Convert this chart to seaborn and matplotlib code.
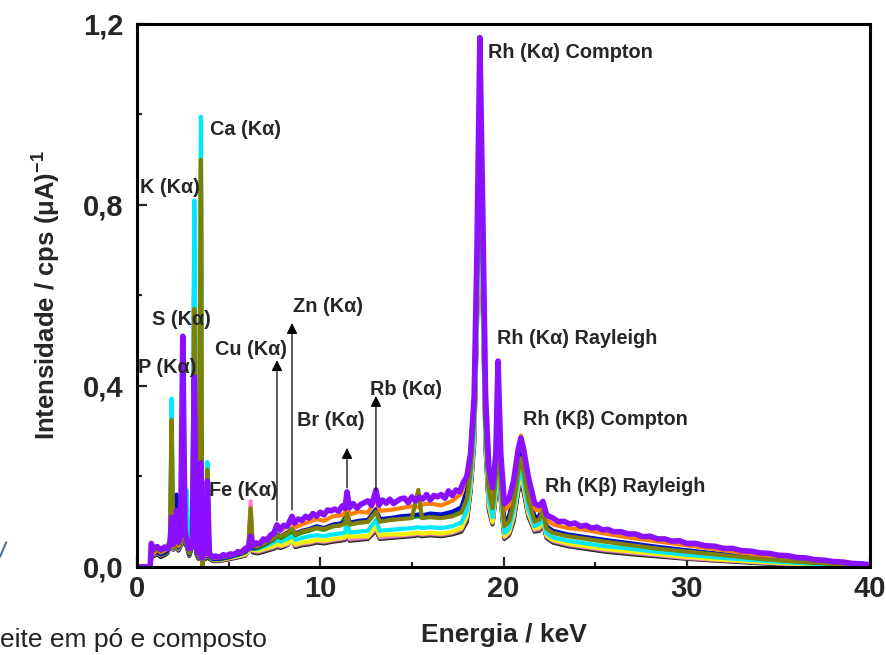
import numpy as np
import pandas as pd
import matplotlib
matplotlib.use("Agg")
import matplotlib.pyplot as plt
from matplotlib.ticker import MultipleLocator, FuncFormatter
from matplotlib.lines import Line2D
import seaborn as sns

# energy grid (keV), shared by the lower spectra
energy_kev = [
    0.0, 0.72, 0.78, 0.90, 1.10, 1.30, 1.50, 1.65, 1.80, 1.89,
    1.98, 2.08, 2.16, 2.26, 2.38, 2.50, 2.62, 2.71, 2.85, 3.02,
    3.13, 3.24, 3.36, 3.49, 3.56, 3.66, 3.76, 3.84, 3.95, 4.15,
    4.50, 5.00, 5.50, 5.90, 6.08, 6.20, 6.32, 6.60, 7.10, 7.45,
    7.64, 7.85, 8.20, 8.46, 8.65, 9.00, 9.40, 9.80, 10.2, 10.7,
    11.1, 11.35, 11.46, 11.6, 12.1, 12.6, 13.04, 13.25, 13.8, 14.4,
    15.0, 15.35, 15.55, 16.0, 16.6, 17.2, 17.7, 18.0, 18.2, 18.4,
    18.55, 18.71, 18.87, 19.02, 19.2, 19.4, 19.58, 19.70, 19.85, 20.05,
    20.3, 20.55, 20.8, 20.95, 21.1, 21.35, 21.7, 21.95, 22.15, 22.35,
    22.7, 23.5, 24.5, 25.5, 27.0, 28.5, 30.0, 32.0, 34.0, 36.0,
    38.0, 40.0,
]

spec_black = [
    0, 0, 0.020, 0.024, 0.028, 0.022, 0.026, 0.030, 0.045, 0.250,
    0.038, 0.042, 0.085, 0.036, 0.046, 0.330, 0.050, 0.046, 0.024, 0.046,
    0.650, 0.028, 0.018, 0.850, 0.024, 0.040, 0.018, 0.190, 0.018, 0.013,
    0.013, 0.017, 0.021, 0.025, 0.036, 0.110, 0.032, 0.030, 0.036, 0.040,
    0.044, 0.042, 0.048, 0.060, 0.044, 0.048, 0.050, 0.054, 0.052, 0.056,
    0.058, 0.060, 0.078, 0.058, 0.060, 0.062, 0.080, 0.062, 0.064, 0.066,
    0.068, 0.070, 0.068, 0.070, 0.068, 0.072, 0.078, 0.100, 0.165, 0.270,
    0.530, 0.880, 0.570, 0.260, 0.125, 0.094, 0.155, 0.340, 0.145, 0.062,
    0.070, 0.100, 0.165, 0.190, 0.165, 0.112, 0.078, 0.080, 0.095, 0.064,
    0.054, 0.046, 0.040, 0.034, 0.028, 0.023, 0.018, 0.013, 0.008, 0.005,
    0.003, 0.001,
]
spec_gray = [
    0, 0, 0.022, 0.026, 0.030, 0.025, 0.028, 0.032, 0.048, 0.290,
    0.040, 0.044, 0.088, 0.038, 0.048, 0.350, 0.052, 0.048, 0.025, 0.048,
    0.710, 0.030, 0.020, 0.880, 0.026, 0.042, 0.020, 0.195, 0.020, 0.014,
    0.014, 0.018, 0.022, 0.026, 0.038, 0.120, 0.034, 0.032, 0.038, 0.042,
    0.046, 0.044, 0.050, 0.062, 0.046, 0.050, 0.052, 0.056, 0.054, 0.058,
    0.060, 0.062, 0.080, 0.060, 0.062, 0.064, 0.082, 0.064, 0.066, 0.068,
    0.070, 0.072, 0.070, 0.072, 0.070, 0.074, 0.080, 0.105, 0.170, 0.280,
    0.540, 0.900, 0.580, 0.265, 0.130, 0.096, 0.160, 0.350, 0.150, 0.064,
    0.072, 0.105, 0.170, 0.195, 0.170, 0.115, 0.080, 0.082, 0.098, 0.066,
    0.056, 0.048, 0.042, 0.036, 0.030, 0.025, 0.019, 0.014, 0.009, 0.006,
    0.003, 0.001,
]
spec_pink = [
    0, 0, 0.024, 0.028, 0.032, 0.026, 0.030, 0.034, 0.050, 0.300,
    0.040, 0.045, 0.090, 0.040, 0.050, 0.360, 0.055, 0.050, 0.026, 0.050,
    0.780, 0.032, 0.022, 0.870, 0.028, 0.045, 0.022, 0.200, 0.022, 0.015,
    0.015, 0.019, 0.023, 0.027, 0.040, 0.145, 0.036, 0.034, 0.040, 0.044,
    0.048, 0.046, 0.050, 0.056, 0.048, 0.052, 0.054, 0.058, 0.056, 0.060,
    0.062, 0.064, 0.084, 0.062, 0.064, 0.066, 0.086, 0.066, 0.068, 0.070,
    0.072, 0.074, 0.072, 0.074, 0.072, 0.076, 0.084, 0.110, 0.175, 0.285,
    0.550, 0.920, 0.590, 0.270, 0.135, 0.098, 0.165, 0.360, 0.155, 0.066,
    0.075, 0.110, 0.175, 0.200, 0.175, 0.118, 0.082, 0.085, 0.100, 0.068,
    0.058, 0.050, 0.044, 0.038, 0.032, 0.026, 0.020, 0.015, 0.010, 0.006,
    0.004, 0.002,
]
spec_yellow = [
    0, 0, 0.025, 0.030, 0.034, 0.028, 0.032, 0.036, 0.052, 0.335,
    0.045, 0.048, 0.095, 0.042, 0.052, 0.380, 0.060, 0.060, 0.028, 0.055,
    0.595, 0.035, 0.025, 0.915, 0.030, 0.050, 0.025, 0.210, 0.024, 0.016,
    0.016, 0.020, 0.024, 0.028, 0.036, 0.100, 0.038, 0.036, 0.042, 0.046,
    0.050, 0.048, 0.052, 0.058, 0.050, 0.054, 0.056, 0.060, 0.058, 0.062,
    0.064, 0.066, 0.088, 0.066, 0.068, 0.068, 0.090, 0.070, 0.072, 0.072,
    0.074, 0.076, 0.074, 0.076, 0.074, 0.078, 0.086, 0.115, 0.180, 0.290,
    0.560, 0.940, 0.600, 0.280, 0.140, 0.100, 0.170, 0.370, 0.160, 0.068,
    0.078, 0.115, 0.180, 0.205, 0.180, 0.122, 0.085, 0.088, 0.105, 0.070,
    0.060, 0.052, 0.046, 0.040, 0.034, 0.028, 0.022, 0.016, 0.011, 0.007,
    0.004, 0.002,
]
spec_cyan = [
    0, 0, 0.028, 0.032, 0.036, 0.030, 0.034, 0.038, 0.055, 0.372,
    0.045, 0.050, 0.100, 0.045, 0.055, 0.400, 0.070, 0.170, 0.030, 0.060,
    0.810, 0.035, 0.025, 0.995, 0.030, 0.050, 0.025, 0.232, 0.025, 0.018,
    0.018, 0.022, 0.026, 0.032, 0.040, 0.090, 0.040, 0.040, 0.048, 0.054,
    0.060, 0.056, 0.062, 0.070, 0.060, 0.064, 0.068, 0.070, 0.068, 0.072,
    0.074, 0.076, 0.098, 0.076, 0.078, 0.080, 0.104, 0.080, 0.082, 0.084,
    0.086, 0.088, 0.086, 0.088, 0.086, 0.090, 0.098, 0.125, 0.190, 0.300,
    0.580, 0.960, 0.620, 0.290, 0.150, 0.110, 0.180, 0.380, 0.170, 0.075,
    0.085, 0.125, 0.190, 0.215, 0.190, 0.130, 0.090, 0.095, 0.112, 0.075,
    0.065, 0.058, 0.052, 0.046, 0.040, 0.033, 0.027, 0.020, 0.014, 0.009,
    0.005, 0.002,
]
spec_green = [
    0, 0, 0.024, 0.030, 0.032, 0.028, 0.030, 0.034, 0.050, 0.180,
    0.042, 0.048, 0.120, 0.042, 0.052, 0.320, 0.056, 0.050, 0.027, 0.048,
    0.400, 0.032, 0.023, 0.420, 0.025, 0.044, 0.023, 0.160, 0.022, 0.017,
    0.017, 0.021, 0.027, 0.032, 0.040, 0.080, 0.040, 0.042, 0.052, 0.060,
    0.068, 0.064, 0.072, 0.080, 0.070, 0.076, 0.080, 0.086, 0.082, 0.090,
    0.092, 0.110, 0.116, 0.094, 0.098, 0.100, 0.122, 0.102, 0.104, 0.108,
    0.110, 0.112, 0.110, 0.114, 0.112, 0.118, 0.128, 0.160, 0.220, 0.340,
    0.620, 1.050, 0.680, 0.320, 0.175, 0.135, 0.210, 0.420, 0.205, 0.096,
    0.108, 0.150, 0.220, 0.250, 0.220, 0.160, 0.106, 0.108, 0.135, 0.088,
    0.078, 0.070, 0.064, 0.058, 0.050, 0.042, 0.035, 0.027, 0.019, 0.012,
    0.007, 0.003,
]
spec_blue = [
    0, 0, 0.026, 0.030, 0.034, 0.028, 0.032, 0.036, 0.052, 0.150,
    0.045, 0.050, 0.160, 0.044, 0.054, 0.300, 0.058, 0.052, 0.028, 0.050,
    0.380, 0.034, 0.024, 0.300, 0.026, 0.046, 0.024, 0.150, 0.024, 0.018,
    0.018, 0.022, 0.028, 0.034, 0.040, 0.070, 0.042, 0.044, 0.054, 0.062,
    0.072, 0.068, 0.076, 0.084, 0.074, 0.080, 0.084, 0.090, 0.086, 0.094,
    0.096, 0.100, 0.120, 0.098, 0.102, 0.104, 0.128, 0.106, 0.108, 0.112,
    0.114, 0.116, 0.114, 0.118, 0.116, 0.122, 0.132, 0.170, 0.230, 0.350,
    0.640, 1.080, 0.700, 0.330, 0.180, 0.140, 0.215, 0.430, 0.210, 0.100,
    0.112, 0.155, 0.225, 0.255, 0.225, 0.165, 0.110, 0.112, 0.140, 0.090,
    0.080, 0.072, 0.066, 0.060, 0.052, 0.044, 0.037, 0.028, 0.020, 0.013,
    0.008, 0.004,
]
spec_orange = [
    0, 0, 0.035, 0.030, 0.038, 0.032, 0.036, 0.040, 0.055, 0.200,
    0.045, 0.052, 0.105, 0.046, 0.056, 0.440, 0.065, 0.055, 0.032, 0.055,
    0.480, 0.036, 0.026, 0.285, 0.024, 0.048, 0.026, 0.160, 0.026, 0.020,
    0.022, 0.026, 0.032, 0.040, 0.044, 0.075, 0.046, 0.050, 0.064, 0.074,
    0.088, 0.080, 0.090, 0.098, 0.088, 0.094, 0.100, 0.106, 0.102, 0.112,
    0.114, 0.118, 0.140, 0.116, 0.122, 0.120, 0.150, 0.124, 0.126, 0.130,
    0.134, 0.132, 0.138, 0.140, 0.136, 0.146, 0.162, 0.205, 0.250, 0.370,
    0.690, 1.120, 0.750, 0.360, 0.200, 0.160, 0.240, 0.445, 0.240, 0.125,
    0.135, 0.180, 0.255, 0.290, 0.255, 0.190, 0.128, 0.124, 0.135, 0.104,
    0.094, 0.086, 0.082, 0.074, 0.064, 0.056, 0.048, 0.037, 0.026, 0.017,
    0.010, 0.005,
]
spec_olive = [
    0, 0, 0.030, 0.035, 0.040, 0.035, 0.040, 0.045, 0.060, 0.325,
    0.050, 0.055, 0.110, 0.050, 0.060, 0.420, 0.060, 0.050, 0.030, 0.060,
    0.570, 0.040, 0.030, 0.900, -0.030, 0.060, 0.030, 0.215, 0.030, 0.020,
    0.020, 0.024, 0.030, 0.036, 0.050, 0.130, 0.045, 0.045, 0.055, 0.062,
    0.070, 0.068, 0.074, 0.085, 0.072, 0.078, 0.082, 0.086, 0.084, 0.090,
    0.092, 0.096, 0.118, 0.094, 0.098, 0.100, 0.122, 0.100, 0.104, 0.106,
    0.108, 0.170, 0.108, 0.110, 0.108, 0.112, 0.120, 0.150, 0.210, 0.330,
    0.620, 1.030, 0.660, 0.320, 0.170, 0.130, 0.200, 0.400, 0.190, 0.090,
    0.100, 0.140, 0.210, 0.240, 0.210, 0.150, 0.100, 0.105, 0.125, 0.085,
    0.075, 0.068, 0.062, 0.056, 0.048, 0.040, 0.034, 0.026, 0.018, 0.012,
    0.007, 0.003,
]

# the top (purple) spectrum is read more densely, it carries the visible noise
purple_energy = [
    0.0, 0.72, 0.78, 0.90, 1.10, 1.30, 1.50, 1.65, 1.80, 1.89,
    1.98, 2.08, 2.16, 2.26, 2.38, 2.50, 2.62, 2.71, 2.85, 3.02,
    3.13, 3.24, 3.36, 3.49, 3.56, 3.66, 3.76, 3.84, 3.95, 4.15,
    4.3, 4.5, 4.7, 4.9, 5.1, 5.3, 5.5, 5.7, 5.9, 6.08,
    6.2, 6.32, 6.5, 6.7, 6.9, 7.1, 7.3, 7.45, 7.64, 7.8,
    8.0, 8.2, 8.46, 8.6, 8.8, 9.0, 9.2, 9.4, 9.6, 9.8,
    10.0, 10.2, 10.4, 10.6, 10.8, 11.0, 11.2, 11.35, 11.46, 11.6,
    11.8, 12.0, 12.2, 12.4, 12.6, 12.8, 13.04, 13.2, 13.4, 13.6,
    13.8, 14.0, 14.2, 14.4, 14.6, 14.8, 15.0, 15.2, 15.4, 15.6,
    15.8, 16.0, 16.2, 16.4, 16.6, 16.8, 17.0, 17.2, 17.4, 17.6,
    17.8, 18.0, 18.2, 18.4, 18.55, 18.71, 18.87, 19.02, 19.2, 19.4,
    19.58, 19.70, 19.85, 20.05, 20.3, 20.55, 20.8, 20.95, 21.1, 21.35,
    21.7, 21.95, 22.15, 22.35, 22.7, 23.0, 23.3, 23.6, 23.9, 24.2,
    24.5, 24.8, 25.1, 25.4, 25.7, 26.0, 26.4, 26.8, 27.2, 27.6,
    28.0, 28.4, 28.8, 29.2, 29.6, 30.0, 30.5, 31.0, 31.5, 32.0,
    32.5, 33.0, 33.5, 34.0, 34.5, 35.0, 35.5, 36.0, 36.5, 37.0,
    37.5, 38.0, 38.5, 39.0, 39.5, 40.0,
]
spec_purple = [
    0, 0, 0.052, 0.040, 0.045, 0.038, 0.044, 0.040, 0.050, 0.110,
    0.050, 0.060, 0.125, 0.055, 0.070, 0.510, 0.080, 0.060, 0.040, 0.050,
    0.420, 0.040, 0.030, 0.230, 0.020, 0.050, 0.030, 0.190, 0.030, 0.022,
    0.024, 0.021, 0.027, 0.025, 0.029, 0.027, 0.034, 0.031, 0.041, 0.040,
    0.068, 0.047, 0.053, 0.051, 0.062, 0.059, 0.071, 0.073, 0.093, 0.082,
    0.092, 0.090, 0.112, 0.097, 0.106, 0.103, 0.112, 0.108, 0.118, 0.112,
    0.121, 0.115, 0.126, 0.124, 0.128, 0.123, 0.135, 0.129, 0.166, 0.131,
    0.140, 0.130, 0.138, 0.142, 0.146, 0.136, 0.170, 0.137, 0.148, 0.141,
    0.150, 0.140, 0.146, 0.151, 0.152, 0.142, 0.155, 0.146, 0.154, 0.150,
    0.160, 0.148, 0.158, 0.155, 0.160, 0.152, 0.168, 0.158, 0.170, 0.166,
    0.186, 0.200, 0.250, 0.380, 0.700, 1.170, 0.780, 0.380, 0.220, 0.175,
    0.250, 0.455, 0.250, 0.140, 0.150, 0.190, 0.260, 0.285, 0.260, 0.200,
    0.140, 0.135, 0.145, 0.115, 0.108, 0.100, 0.101, 0.095, 0.097, 0.090,
    0.092, 0.086, 0.088, 0.082, 0.083, 0.078, 0.078, 0.073, 0.073, 0.067,
    0.068, 0.062, 0.062, 0.057, 0.058, 0.052, 0.052, 0.047, 0.046, 0.041,
    0.041, 0.036, 0.035, 0.031, 0.030, 0.026, 0.025, 0.021, 0.020, 0.016,
    0.015, 0.012, 0.011, 0.008, 0.007, 0.005,
]

# drawing order: first drawn ends up underneath
sample_names = ["black", "gray", "pink", "yellow", "cyan", "green",
                "blue", "orange", "olive"]
sample_values = [spec_black, spec_gray, spec_pink, spec_yellow, spec_cyan,
                 spec_green, spec_blue, spec_orange, spec_olive]
sample_colors = ["#1a1a1a", "#555555", "#ff77d0", "#f2f200", "#00e8ff",
                 "#009a00", "#0010c8", "#ff8000", "#808000"]
purple_color = "#8a10ff"

# peak labels: text, x (keV), y
peak_labels = [
    ("Ca (K\u03b1)", 3.98, 0.966),
    ("K (K\u03b1)", 0.16, 0.838),
    ("S (K\u03b1)", 0.82, 0.548),
    ("P (K\u03b1)", 0.05, 0.440),
    ("Cu (K\u03b1)", 4.26, 0.480),
    ("Zn (K\u03b1)", 8.51, 0.575),
    ("Br (K\u03b1)", 8.73, 0.323),
    ("Rb (K\u03b1)", 12.71, 0.393),
    ("Fe (K\u03b1)", 3.93, 0.168),
    ("Rh (K\u03b1) Compton", 19.15, 1.136),
    ("Rh (K\u03b1) Rayleigh", 19.64, 0.506),
    ("Rh (K\u03b2) Compton", 21.06, 0.327),
    ("Rh (K\u03b2) Rayleigh", 22.26, 0.177),
]
# arrows: x (keV), tail y, head y
peak_arrows = [
    (7.64, 0.102, 0.457),
    (8.46, 0.126, 0.539),
    (11.46, 0.175, 0.263),
    (13.04, 0.170, 0.378),
]

frames = []
for name, vals in zip(sample_names, sample_values):
    frames.append(pd.DataFrame({"energy": energy_kev, "intensity": vals, "sample": name}))
df = pd.concat(frames, ignore_index=True)
df_top = pd.DataFrame({"energy": purple_energy, "intensity": spec_purple})

sns.set_style("ticks")
plt.rcParams["font.family"] = ["Liberation Sans", "DejaVu Sans"]
plt.rcParams["mathtext.fontset"] = "custom"
plt.rcParams["mathtext.rm"] = "Liberation Sans:bold"
plt.rcParams["mathtext.bf"] = "Liberation Sans:bold"
plt.rcParams["mathtext.default"] = "rm"

fig = plt.figure(figsize=(8.86, 6.55), dpi=100)
ax = fig.add_axes([0.1546, 0.1344, 0.8274, 0.829])

sns.lineplot(data=df, x="energy", y="intensity", hue="sample",
             hue_order=sample_names, palette=sample_colors,
             estimator=None, sort=False, legend=False, linewidth=3.0, ax=ax)
sns.lineplot(data=df_top, x="energy", y="intensity", color=purple_color,
             estimator=None, sort=False, linewidth=4.0, ax=ax)

ax.set_xlim(0, 40)
ax.set_ylim(0, 1.2)
ax.xaxis.set_major_locator(MultipleLocator(10))
ax.xaxis.set_minor_locator(MultipleLocator(5))
ax.yaxis.set_major_locator(MultipleLocator(0.4))
ax.yaxis.set_minor_locator(MultipleLocator(0.2))
ax.xaxis.set_major_formatter(FuncFormatter(lambda v, p: f"{v:.0f}"))
ax.yaxis.set_major_formatter(FuncFormatter(lambda v, p: f"{v:.1f}".replace(".", ",")))
ax.tick_params(which="both", direction="in", width=1.6, top=False, right=False,
               labelsize=21)
ax.tick_params(which="major", length=7)
ax.tick_params(which="minor", length=3.6)
ax.tick_params(axis="y", pad=10)
ax.tick_params(axis="x", pad=6)
for lab in ax.get_xticklabels() + ax.get_yticklabels():
    lab.set_fontweight("bold")
for side in ["left", "right", "top", "bottom"]:
    ax.spines[side].set_visible(True)
    ax.spines[side].set_linewidth(2.2)
    ax.spines[side].set_color("black")

ax.set_xlabel("Energia / keV", fontsize=19, fontweight="bold", labelpad=14)
ax.set_ylabel("Intensidade / cps (\u03bcA)$^{-1}$", fontsize=18.5, fontweight="bold",
              labelpad=14)

for text, x, y in peak_labels:
    ax.text(x, y, text, fontsize=14.3, fontweight="bold", ha="left", va="center")
for x, y0, y1 in peak_arrows:
    ax.annotate("", xy=(x, y1), xytext=(x, y0),
                arrowprops=dict(arrowstyle="-|>", color="black", lw=0.9,
                                mutation_scale=16, shrinkA=0, shrinkB=0))

# cropped caption fragment from the source page
fig.text(0.0, 0.023, "eite em pó e composto", fontsize=19, color="#222222",
         ha="left", va="center")
fig.add_artist(Line2D([0.0, 0.007], [0.150, 0.172], color="#4a6fa5", lw=1.5))

fig.savefig("out.png", dpi=100)
